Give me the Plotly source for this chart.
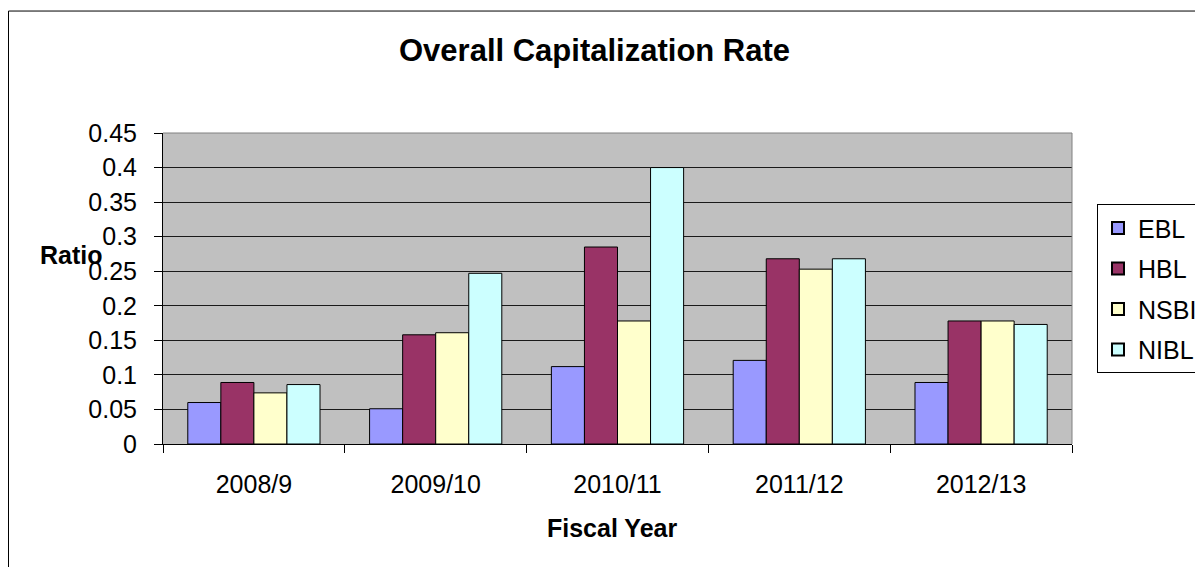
import plotly.graph_objects as go

# Fiscal years on the category axis
years = ["2008/9", "2009/10", "2010/11", "2011/12", "2012/13"]

# Overall capitalization rate per bank
ebl = [0.060, 0.051, 0.112, 0.121, 0.089]
hbl = [0.089, 0.158, 0.285, 0.268, 0.178]
nsbi = [0.074, 0.161, 0.178, 0.253, 0.178]
nibl = [0.086, 0.247, 0.400, 0.268, 0.173]

banks = ["EBL", "HBL", "NSBI", "NIBL"]
series = [ebl, hbl, nsbi, nibl]
colors = ["#9999FF", "#993366", "#FFFFCC", "#CCFFFF"]

W, H = 1195, 567
L, R, T, B = 163, 1072, 132.7, 444.3   # plot area in pixels

def px(x):
    return (x - L) / (R - L)

def py(y):
    return (B - y) / (B - T)

FONT = "Liberation Sans, Arial, sans-serif"

fig = go.Figure()
for i, (name, vals, col) in enumerate(zip(banks, series, colors)):
    fig.add_trace(go.Bar(
        x=years, y=vals, name=name, legendgroup=name,
        marker=dict(color=col, line=dict(color="#000000", width=1)),
    ))

fig.update_layout(
    width=W, height=H,
    margin=dict(l=L, r=W - R, t=T, b=H - B, autoexpand=False),
    paper_bgcolor="white",
    plot_bgcolor="#C0C0C0",
    barmode="group",
    bargap=1.5 / 5.5,
    bargroupgap=0,
    font=dict(family=FONT, size=25, color="#000000"),
    showlegend=True,
    legend=dict(
        x=px(1097), y=py(204), xanchor="left", yanchor="top",
        bgcolor="white", bordercolor="#000000", borderwidth=1,
        font=dict(size=25), tracegroupgap=5,
        itemsizing="constant", itemwidth=30,
    ),
    xaxis=dict(
        showgrid=False, showline=True, linecolor="#000000", linewidth=1,
        ticks="outside", tickson="boundaries", ticklen=8, tickcolor="#000000",
        ticklabelstandoff=18, tickfont=dict(size=25),
    ),
    yaxis=dict(
        range=[0, 0.45], dtick=0.05, tick0=0,
        showgrid=True, gridcolor="#1a1a1a", gridwidth=1,
        zeroline=False, showline=True, linecolor="#000000", linewidth=1,
        ticks="outside", ticklen=8, tickcolor="#000000",
        ticklabelstandoff=12, tickfont=dict(size=25),
    ),
    shapes=[
        # gray plot-area border on top and right
        dict(type="line", xref="paper", yref="paper", x0=0, x1=1, y0=1, y1=1,
             line=dict(color="#808080", width=1), layer="above"),
        dict(type="line", xref="paper", yref="paper", x0=1, x1=1, y0=0, y1=1,
             line=dict(color="#808080", width=1), layer="above"),
        # chart frame
        dict(type="rect", xref="paper", yref="paper",
             x0=px(8.5), x1=px(1230), y0=py(600), y1=py(10.5),
             line=dict(color="#000000", width=1), fillcolor="rgba(0,0,0,0)",
             layer="above"),
    ],
    annotations=[
        dict(text="<b>Overall Capitalization Rate</b>", xref="paper", yref="paper",
             x=px(594), y=py(50), xanchor="center", yanchor="middle",
             showarrow=False, font=dict(size=31)),
        dict(text="<b>Ratio</b>", xref="paper", yref="paper",
             x=px(71), y=py(255), xanchor="center", yanchor="middle",
             showarrow=False, font=dict(size=25)),
        dict(text="<b>Fiscal Year</b>", xref="paper", yref="paper",
             x=px(612), y=py(528), xanchor="center", yanchor="middle",
             showarrow=False, font=dict(size=25)),
    ],
)

fig.write_html("out.html")
